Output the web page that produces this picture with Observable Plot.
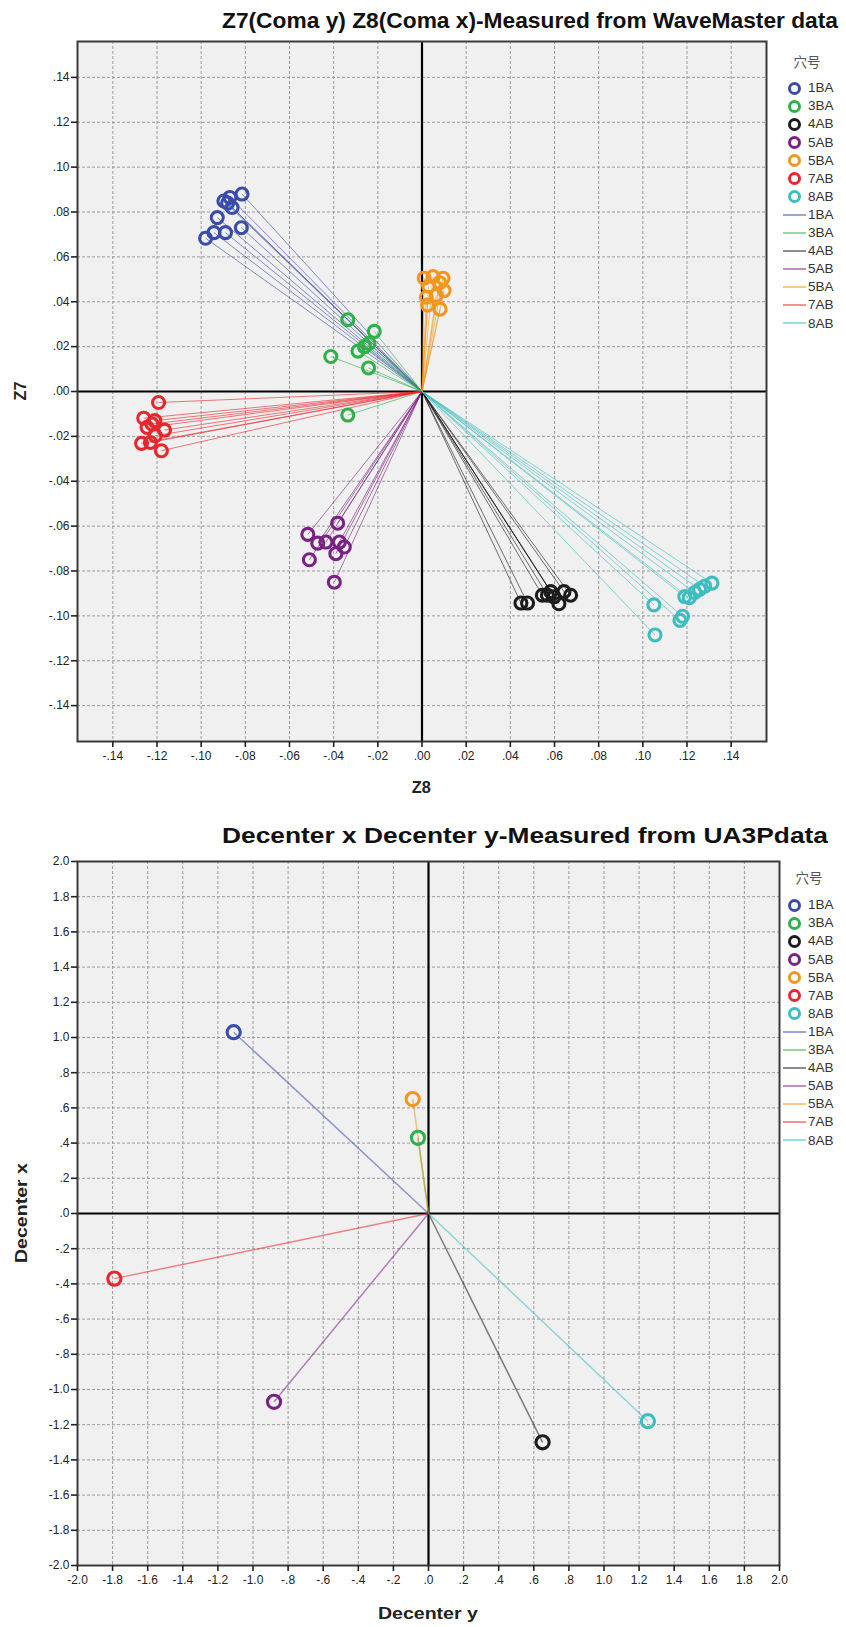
<!DOCTYPE html>
<html><head><meta charset="utf-8">
<script src="https://cdn.jsdelivr.net/npm/d3@7"></script>
<script src="https://cdn.jsdelivr.net/npm/@observablehq/plot@0.6"></script>
<style>
body{margin:0;background:#fff;font-family:"Liberation Sans",Arial,sans-serif;}
#page{position:relative;width:846px;height:1627px;overflow:hidden;background:#fff;}
.abs{position:absolute;}
.title{font-weight:bold;font-size:21.5px;white-space:nowrap;color:#111;line-height:1;}
.axt{font-weight:bold;font-size:16px;color:#222;white-space:nowrap;line-height:1;}
.legt{font-family:"Noto Sans CJK SC","Noto Sans CJK JP",sans-serif;font-size:13.5px;color:#555;line-height:1;}
.legi{font-size:13.5px;color:#333;line-height:1;white-space:nowrap;}
</style></head>
<body><div id="page"></div>
<script>
// ---------- data ----------
const groups = ["1BA","3BA","4AB","5AB","5BA","7AB","8AB"];
const groupColors = ["#3a4cab","#2eb04b","#1c1c1c","#7a2283","#f3961f","#e8262d","#3dbdbf"];

// Top chart: [Z8, Z7] per measurement
const z_1BA = [[-0.0815,0.0880],[-0.0897,0.0849],[-0.0870,0.0865],[-0.0860,0.0820],[-0.0927,0.0775],
               [-0.0980,0.0683],[-0.0942,0.0708],[-0.0890,0.0708],[-0.0818,0.0730],[-0.0880,0.0840]];
const z_3BA = [[-0.0336,0.0320],[-0.0216,0.0268],[-0.0290,0.0180],[-0.0260,0.0200],[-0.0240,0.0215],
               [-0.0413,0.0156],[-0.0242,0.0105],[-0.0336,-0.0105]];
const z_4AB = [[0.0448,-0.0943],[0.0478,-0.0943],[0.0545,-0.0908],[0.0583,-0.0892],[0.0620,-0.0946],
               [0.0673,-0.0908],[0.0643,-0.0892],[0.0598,-0.0915],[0.0568,-0.0908]];
const z_5AB = [[-0.0517,-0.0637],[-0.0382,-0.0587],[-0.0472,-0.0676],[-0.0435,-0.0671],[-0.0374,-0.0671],
               [-0.0352,-0.0693],[-0.0390,-0.0723],[-0.0510,-0.0750],[-0.0397,-0.0850]];
const z_5BA = [[0.0010,0.0505],[0.0050,0.0512],[0.0095,0.0505],[0.0030,0.0470],[0.0080,0.0485],
               [0.0020,0.0420],[0.0065,0.0428],[0.0082,0.0367],[0.0025,0.0385],[0.0100,0.0450]];
const z_7AB = [[-0.1193,-0.0049],[-0.1260,-0.0119],[-0.1210,-0.0130],[-0.1223,-0.0145],[-0.1166,-0.0172],
               [-0.1208,-0.0197],[-0.1270,-0.0231],[-0.1230,-0.0227],[-0.1180,-0.0264],[-0.1245,-0.0160]];
const z_8AB = [[0.1050,-0.0951],[0.1190,-0.0914],[0.1210,-0.0919],[0.1235,-0.0896],[0.1257,-0.0882],
               [0.1280,-0.0868],[0.1313,-0.0854],[0.1168,-0.1020],[0.1180,-0.1002],[0.1055,-0.1085]];

// Bottom chart: [Decenter y, Decenter x]
const dec_1BA = [[-1.11, 1.03]];
const dec_3BA = [[-0.06, 0.43]];
const dec_4AB = [[0.65, -1.30]];
const dec_5AB = [[-0.88, -1.07]];
const dec_5BA = [[-0.09, 0.65]];
const dec_7AB = [[-1.79, -0.37]];
const dec_8AB = [[1.25, -1.18]];

const zTicks = [-0.14,-0.12,-0.10,-0.08,-0.06,-0.04,-0.02,0,0.02,0.04,0.06,0.08,0.10,0.12,0.14];
const decTicks = [-2.0,-1.8,-1.6,-1.4,-1.2,-1.0,-0.8,-0.6,-0.4,-0.2,0,0.2,0.4,0.6,0.8,1.0,1.2,1.4,1.6,1.8,2.0];
const zDomain = [-0.156, 0.156];
const decDomain = [-2, 2];

const topTitle = "Z7(Coma y) Z8(Coma x)-Measured from WaveMaster data";
const bottomTitle = "Decenter x Decenter y-Measured from UA3Pdata";
const legendTitle = "穴号";

// ---------- build rows ----------
const zSets = [z_1BA, z_3BA, z_4AB, z_5AB, z_5BA, z_7AB, z_8AB];
const decSets = [dec_1BA, dec_3BA, dec_4AB, dec_5AB, dec_5BA, dec_7AB, dec_8AB];
const topRows = groups.flatMap((g, i) => zSets[i].map(([x, y]) => ({grp: g, x, y})));
const botRows = groups.flatMap((g, i) => decSets[i].map(([x, y]) => ({grp: g, x, y})));

function fmt(dec) {
  const f = d3.format("." + dec + "f");
  return v => {
    const s = f(Math.abs(v) < 1e-9 ? 0 : v).replace("\u2212", "-");
    return s.replace(/^(-?)0\./, "$1.");
  };
}

function chart(rows, ticks, domain, dec, opts) {
  return Plot.plot({
    width: 846, height: opts.height,
    marginTop: opts.mt, marginBottom: opts.mb, marginLeft: opts.ml, marginRight: opts.mr,
    x: {domain, label: null},
    y: {domain, label: null},
    color: {domain: groups, range: groupColors},
    style: {fontFamily: "Liberation Sans, Arial, sans-serif", fontSize: "12px", color: "#222", background: "transparent", overflow: "visible"},
    marks: [
      Plot.frame({fill: "#f0f0f0", stroke: null}),
      Plot.gridX(ticks, {stroke: "#9a9a9a", strokeOpacity: 1, strokeDasharray: "3,2", strokeWidth: 1}),
      Plot.gridY(ticks, {stroke: "#9a9a9a", strokeOpacity: 1, strokeDasharray: "3,2", strokeWidth: 1}),
      Plot.ruleX([0], {stroke: "#000", strokeWidth: 2.2}),
      Plot.ruleY([0], {stroke: "#000", strokeWidth: 2.2}),
      Plot.link(rows, {x1: () => 0, y1: () => 0, x2: "x", y2: "y", stroke: "grp", strokeOpacity: opts.lineOpacity, strokeWidth: opts.lineWidth}),
      Plot.dot(rows, {x: "x", y: "y", r: opts.r, stroke: "grp", strokeWidth: 3.1, fill: "none"}),
      Plot.frame({stroke: "#3a3a3a", strokeWidth: 2}),
      Plot.axisX(ticks, {tickFormat: fmt(dec), tickSize: 6, tickPadding: 4, strokeWidth: 1.6, label: null, fill: "#222"}),
      Plot.axisY(ticks, {tickFormat: fmt(dec), tickSize: 6, tickPadding: 2, strokeWidth: 1.6, label: null, fill: "#222"})
    ]
  });
}

const page = document.getElementById("page");

const topChart = chart(topRows, zTicks, zDomain, 2, {height: 800, mt: 41, mb: 59, ml: 77, mr: 80, r: 6, lineOpacity: 0.62, lineWidth: 1});
topChart.style.position = "absolute"; topChart.style.left = "0px"; topChart.style.top = "0px";
page.appendChild(topChart);

const botChart = chart(botRows, decTicks, decDomain, 1, {height: 817, mt: 51, mb: 62, ml: 77, mr: 67, r: 6.6, lineOpacity: 0.55, lineWidth: 1.5});
botChart.style.position = "absolute"; botChart.style.left = "0px"; botChart.style.top = "810px";
page.appendChild(botChart);

// ---------- text ----------
// mode: "left" (left edge at x), "center" (centered at x), "rotate" (rotated -90, centered at x,y)
function addText(cls, txt, x, y, mode, targetWidth) {
  const el = document.createElement("div");
  el.className = "abs " + cls;
  el.textContent = txt;
  el.style.left = "0px"; el.style.top = "0px";
  page.appendChild(el);
  const r = el.getBoundingClientRect();
  const w = r.width, h = r.height;
  const s = targetWidth ? targetWidth / w : 1;
  el.style.top = (y - h / 2) + "px";
  if (mode === "left") {
    el.style.left = x + "px";
    el.style.transformOrigin = "0 50%";
    el.style.transform = `scaleX(${s})`;
  } else if (mode === "center") {
    el.style.left = (x - w / 2) + "px";
    el.style.transformOrigin = "50% 50%";
    el.style.transform = `scaleX(${s})`;
  } else {
    el.style.left = (x - w / 2) + "px";
    el.style.transformOrigin = "50% 50%";
    el.style.transform = `rotate(-90deg) scaleX(${s})`;
  }
  return el;
}

addText("title", topTitle, 222, 22, "left", 616);
addText("title", bottomTitle, 222, 837, "left", 606);
addText("axt", "Z8", 421, 788, "center", 19);
addText("axt", "Z7", 21, 391, "rotate", 19);
addText("axt", "Decenter y", 428, 1614, "center", 100);
addText("axt", "Decenter x", 22, 1213, "rotate", 100);

// ---------- legends ----------
function legend(titleX, titleY, cx, textX, y0, step) {
  addText("legt", legendTitle, titleX, titleY, "center");
  const items = groups.map((g, i) => ({g, c: groupColors[i], kind: "dot"}))
    .concat(groups.map((g, i) => ({g, c: groupColors[i], kind: "line"})));
  items.forEach((it, k) => {
    const y = y0 + k * step;
    const sym = document.createElement("div");
    sym.className = "abs";
    if (it.kind === "dot") {
      const d = 13;
      Object.assign(sym.style, {left: (cx - d / 2) + "px", top: (y - d / 2) + "px", width: d + "px", height: d + "px",
        border: `3px solid ${it.c}`, borderRadius: "50%", boxSizing: "border-box"});
    } else {
      Object.assign(sym.style, {left: (cx - 11) + "px", top: (y - 1) + "px", width: "23px", height: "2px",
        background: it.c, opacity: 0.5});
    }
    page.appendChild(sym);
    addText("legi", it.g, textX, y, "left");
  });
}
legend(807, 62, 794, 808, 88, 18.1);
legend(809, 878, 794, 808, 905, 18.1);
</script>
</body></html>
